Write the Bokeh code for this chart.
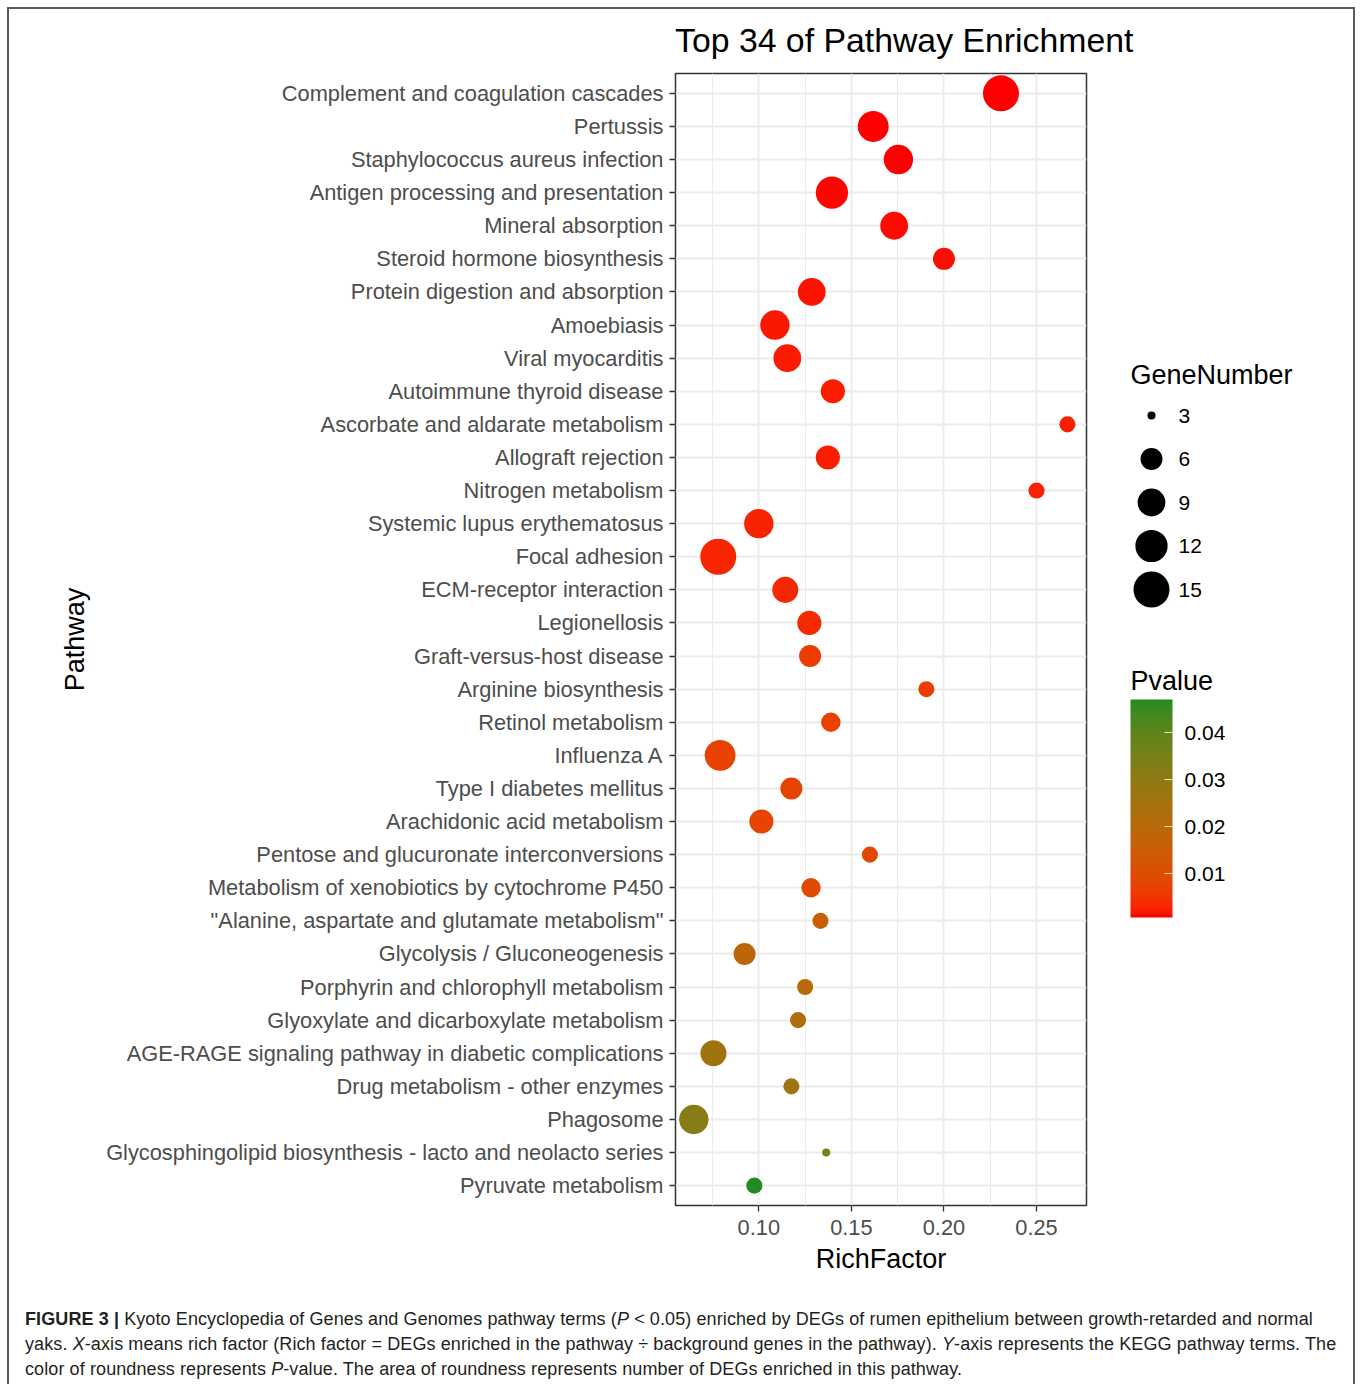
import math

from bokeh.core.properties import value
from bokeh.embed import file_html
from bokeh.layouts import column, row
from bokeh.models import (ColorBar, ColumnDataSource, Div, FactorRange, FixedTicker,
                          Label, LinearColorMapper, NumeralTickFormatter, Range1d)
from bokeh.plotting import figure
from bokeh.resources import INLINE
from bokeh.transform import transform

# ---- data -----------------------------------------------------------------
pathways = [
    "Complement and coagulation cascades",
    "Pertussis",
    "Staphylococcus aureus infection",
    "Antigen processing and presentation",
    "Mineral absorption",
    "Steroid hormone biosynthesis",
    "Protein digestion and absorption",
    "Amoebiasis",
    "Viral myocarditis",
    "Autoimmune thyroid disease",
    "Ascorbate and aldarate metabolism",
    "Allograft rejection",
    "Nitrogen metabolism",
    "Systemic lupus erythematosus",
    "Focal adhesion",
    "ECM-receptor interaction",
    "Legionellosis",
    "Graft-versus-host disease",
    "Arginine biosynthesis",
    "Retinol metabolism",
    "Influenza A",
    "Type I diabetes mellitus",
    "Arachidonic acid metabolism",
    "Pentose and glucuronate interconversions",
    "Metabolism of xenobiotics by cytochrome P450",
    '"Alanine, aspartate and glutamate metabolism"',
    "Glycolysis / Gluconeogenesis",
    "Porphyrin and chlorophyll metabolism",
    "Glyoxylate and dicarboxylate metabolism",
    "AGE-RAGE signaling pathway in diabetic complications",
    "Drug metabolism - other enzymes",
    "Phagosome",
    "Glycosphingolipid biosynthesis - lacto and neolacto series",
    "Pyruvate metabolism",
]

rich_factor = [
    0.2308, 0.1618, 0.1754, 0.1395, 0.1731, 0.2000, 0.1286, 0.1087, 0.1154,
    0.1400, 0.2667, 0.1373, 0.2500, 0.1000, 0.0781, 0.1143, 0.1273, 0.1277,
    0.1905, 0.1389, 0.0791, 0.1176, 0.1014, 0.1600, 0.1282, 0.1333, 0.0923,
    0.1250, 0.1212, 0.0755, 0.1176, 0.0649, 0.1364, 0.0976,
]

gene_number = [
    15, 11, 10, 12, 9, 6, 9, 10, 9, 7, 4, 7, 4, 10, 15, 8, 7, 6, 4, 5, 11,
    6, 7, 4, 5, 4, 6, 4, 4, 8, 4, 10, 3, 4,
]

p_value = [
    0.00070, 0.00075, 0.00085, 0.00095, 0.0011, 0.0014, 0.0016, 0.0019,
    0.0020, 0.0023, 0.0024, 0.0025, 0.0027, 0.0028, 0.0029, 0.0031, 0.0036,
    0.0062, 0.0064, 0.0072, 0.0074, 0.0076, 0.0080, 0.0084, 0.0088, 0.0160,
    0.0190, 0.0205, 0.0225, 0.0258, 0.0265, 0.0318, 0.0340, 0.0471,
]

x_ticks = [0.10, 0.15, 0.20, 0.25]
x_minor_ticks = [0.075, 0.125, 0.175, 0.225]
size_breaks = [3, 6, 9, 12, 15]
p_breaks = [0.01, 0.02, 0.03, 0.04]

FONT = "Liberation Sans"
LOW_COLOR = (255, 0, 0)        # red
HIGH_COLOR = (34, 139, 34)     # forestgreen


# ---- colour scale: gradient interpolated in CIE Lab ------------------------
def _srgb_to_lab(rgb):
    def lin(c):
        c = c / 255.0
        return c / 12.92 if c <= 0.04045 else ((c + 0.055) / 1.055) ** 2.4
    r, g, b = (lin(c) for c in rgb)
    x = (0.4124 * r + 0.3576 * g + 0.1805 * b) / 0.95047
    y = (0.2126 * r + 0.7152 * g + 0.0722 * b) / 1.0
    z = (0.0193 * r + 0.1192 * g + 0.9505 * b) / 1.08883

    def f(t):
        return t ** (1 / 3) if t > 0.008856 else 7.787 * t + 16 / 116
    fx, fy, fz = f(x), f(y), f(z)
    return 116 * fy - 16, 500 * (fx - fy), 200 * (fy - fz)


def _lab_to_hex(lab):
    L, a, b = lab
    fy = (L + 16) / 116
    fx = fy + a / 500
    fz = fy - b / 200

    def finv(t):
        return t ** 3 if t ** 3 > 0.008856 else (t - 16 / 116) / 7.787
    x, y, z = finv(fx) * 0.95047, finv(fy), finv(fz) * 1.08883
    r = 3.2406 * x - 1.5372 * y - 0.4986 * z
    g = -0.9689 * x + 1.8758 * y + 0.0415 * z
    bb = 0.0557 * x - 0.2040 * y + 1.0570 * z

    def gam(c):
        c = max(0.0, min(1.0, c))
        c = 12.92 * c if c <= 0.0031308 else 1.055 * c ** (1 / 2.4) - 0.055
        return int(round(c * 255))
    return "#%02x%02x%02x" % (gam(r), gam(g), gam(bb))


lab_lo, lab_hi = _srgb_to_lab(LOW_COLOR), _srgb_to_lab(HIGH_COLOR)
palette = [
    _lab_to_hex(tuple(lo + (hi - lo) * i / 255 for lo, hi in zip(lab_lo, lab_hi)))
    for i in range(256)
]
mapper = LinearColorMapper(palette=palette, low=min(p_value), high=max(p_value))


# ---- size scale: marker area grows linearly with the gene count ------------
SIZE_RANGE = (8.0, 36.0)
g_lo, g_hi = min(gene_number), max(gene_number)


def size_scale(g):
    frac = (g - g_lo) / (g_hi - g_lo)
    return SIZE_RANGE[0] + (SIZE_RANGE[1] - SIZE_RANGE[0]) * math.sqrt(frac)


source = ColumnDataSource(dict(
    pathway=pathways,
    rich=rich_factor,
    genes=gene_number,
    pval=p_value,
    diam=[size_scale(g) for g in gene_number],
))

# ---- layout geometry (page pixels) -----------------------------------------
ORIGIN = 9                      # page offset of the whole figure block
TOTAL_W = 1344
TITLE_H = 50
FRAME_L, FRAME_R = 675, 1086    # plotting panel, page x
FRAME_T, FRAME_B = 73, 1205     # plotting panel, page y
MAIN_W = 1087
LEG_W = TOTAL_W - MAIN_W
TOP_PAD = FRAME_T - ORIGIN - TITLE_H
BOT_PAD = 75
MAIN_H = TOP_PAD + (FRAME_B - FRAME_T) + BOT_PAD
CAPTION_H = 1384 - ORIGIN - TITLE_H - MAIN_H

title_div = Div(
    text=('<div style="padding:11px 0 0 %dpx; font-family:\'Liberation Sans\', Arial, sans-serif;'
          ' font-size:33.8px; line-height:40px; color:#000; white-space:nowrap;">'
          'Top 34 of Pathway Enrichment</div>') % (FRAME_L - ORIGIN),
    width=TOTAL_W, height=TITLE_H, margin=0,
)

# ---- main dot plot -----------------------------------------------------------
p = figure(
    width=MAIN_W, height=MAIN_H,
    x_range=Range1d(0.055, 0.277),
    y_range=FactorRange(factors=list(reversed(pathways)),
                        range_padding=0.1, range_padding_units="absolute"),
    output_backend="svg", toolbar_location=None,
    min_border_left=FRAME_L - ORIGIN, min_border_right=MAIN_W - (FRAME_R - ORIGIN),
    min_border_top=TOP_PAD, min_border_bottom=BOT_PAD,
)

p.background_fill_color = "white"
p.border_fill_color = "white"
p.outline_line_color = "#333333"
p.outline_line_width = 1.5

for ax in (p.xaxis[0], p.yaxis[0]):
    ax.axis_line_color = None
    ax.major_tick_line_color = "#333333"
    ax.major_tick_line_width = 1.3
    ax.major_tick_out = 6
    ax.major_tick_in = 0
    ax.minor_tick_line_color = None
    ax.major_label_text_font = FONT
    ax.major_label_text_font_size = "21.8px"
    ax.major_label_text_color = "#4d4d4d"
    ax.axis_label_text_font = FONT
    ax.axis_label_text_font_size = "27px"
    ax.axis_label_text_font_style = "normal"
    ax.axis_label_text_color = "black"

p.xaxis.ticker = FixedTicker(ticks=x_ticks, minor_ticks=x_minor_ticks)
p.xaxis.formatter = NumeralTickFormatter(format="0.00")
p.xaxis.axis_label = "RichFactor"
p.xaxis.major_label_standoff = 8
p.xaxis.axis_label_standoff = 6

p.yaxis.axis_label = "Pathway"
p.yaxis.major_label_standoff = 6
p.yaxis.axis_label_standoff = 13

p.xgrid.grid_line_color = "#ebebeb"
p.xgrid.grid_line_width = 1.8
p.xgrid.minor_grid_line_color = "#ebebeb"
p.xgrid.minor_grid_line_width = 1.0
p.ygrid.grid_line_color = "#ebebeb"
p.ygrid.grid_line_width = 1.8

p.scatter(x="rich", y="pathway", size="diam", source=source,
          fill_color=transform("pval", mapper), line_color=None)

# ---- legends (size key + colour bar); data units equal page pixels ----------
q = figure(
    width=LEG_W, height=MAIN_H,
    x_range=Range1d(ORIGIN + MAIN_W, ORIGIN + TOTAL_W),
    y_range=Range1d(FRAME_B, FRAME_T),
    output_backend="svg", toolbar_location=None,
    x_axis_location=None, y_axis_location=None, min_border=0,
)
q.grid.visible = False
q.outline_line_color = None
q.background_fill_color = "white"
q.border_fill_color = "white"

LEG_X = 1130
KEY_X, KEY_Y0, KEY_STEP = 1151, 415, 43.5
key_y = [KEY_Y0 + KEY_STEP * i for i in range(len(size_breaks))]
q.scatter(x=[KEY_X] * len(size_breaks), y=key_y,
          size=[size_scale(v) for v in size_breaks],
          fill_color="black", line_color=None)
q.text(x=[KEY_X + 27] * len(size_breaks), y=key_y,
       text=[str(v) for v in size_breaks],
       text_font=value(FONT), text_font_size="21px",
       text_baseline="middle", text_align="left", text_color="black")

q.add_layout(Label(x=LEG_X, y=374, text="GeneNumber", text_font=FONT,
                   text_font_size="27px", text_baseline="middle",
                   text_color="black"))
q.add_layout(Label(x=LEG_X, y=680, text="Pvalue", text_font=FONT,
                   text_font_size="27px", text_baseline="middle",
                   text_color="black"))

BAR_TOP, BAR_BOTTOM = 699, 917
cbar = ColorBar(
    color_mapper=mapper,
    ticker=FixedTicker(ticks=p_breaks),
    formatter=NumeralTickFormatter(format="0.00"),
    width=42, height=BAR_BOTTOM - BAR_TOP,
    location=(LEG_X - (ORIGIN + MAIN_W), FRAME_B - BAR_BOTTOM),
    padding=0,
    major_tick_in=8, major_tick_out=0,
    major_tick_line_color="white", major_tick_line_alpha=0.8,
    minor_tick_line_color=None,
    major_label_text_font=FONT, major_label_text_font_size="21px",
    major_label_text_color="black",
    label_standoff=12,
    bar_line_color=None, border_line_color=None,
    background_fill_alpha=0,
)
q.add_layout(cbar)

# ---- caption -----------------------------------------------------------------
caption_html = (
    '<div style="padding:27px 0 0 16px; font-family:\'Liberation Sans\', Arial, sans-serif;'
    ' font-size:18px; letter-spacing:0.1px; line-height:25px; color:#231f20; white-space:nowrap;">'
    "<b>FIGURE 3 |</b> Kyoto Encyclopedia of Genes and Genomes pathway terms "
    "(<i>P</i> &lt; 0.05) enriched by DEGs of rumen epithelium between growth-retarded and normal<br>"
    "yaks. <i>X</i>-axis means rich factor (Rich factor = DEGs enriched in the pathway &divide; "
    "background genes in the pathway). <i>Y</i>-axis represents the KEGG pathway terms. The<br>"
    "color of roundness represents <i>P</i>-value. The area of roundness represents number "
    "of DEGs enriched in this pathway."
    "</div>"
)
caption = Div(text=caption_html, width=TOTAL_W, height=CAPTION_H, margin=0)

page = column(
    title_div,
    row(p, q),
    caption,
    margin=(ORIGIN, 0, 0, ORIGIN),
    styles={"outline": "2px solid #5a5a5a"},
)

open("out.html", "w").write(file_html(page, INLINE))
